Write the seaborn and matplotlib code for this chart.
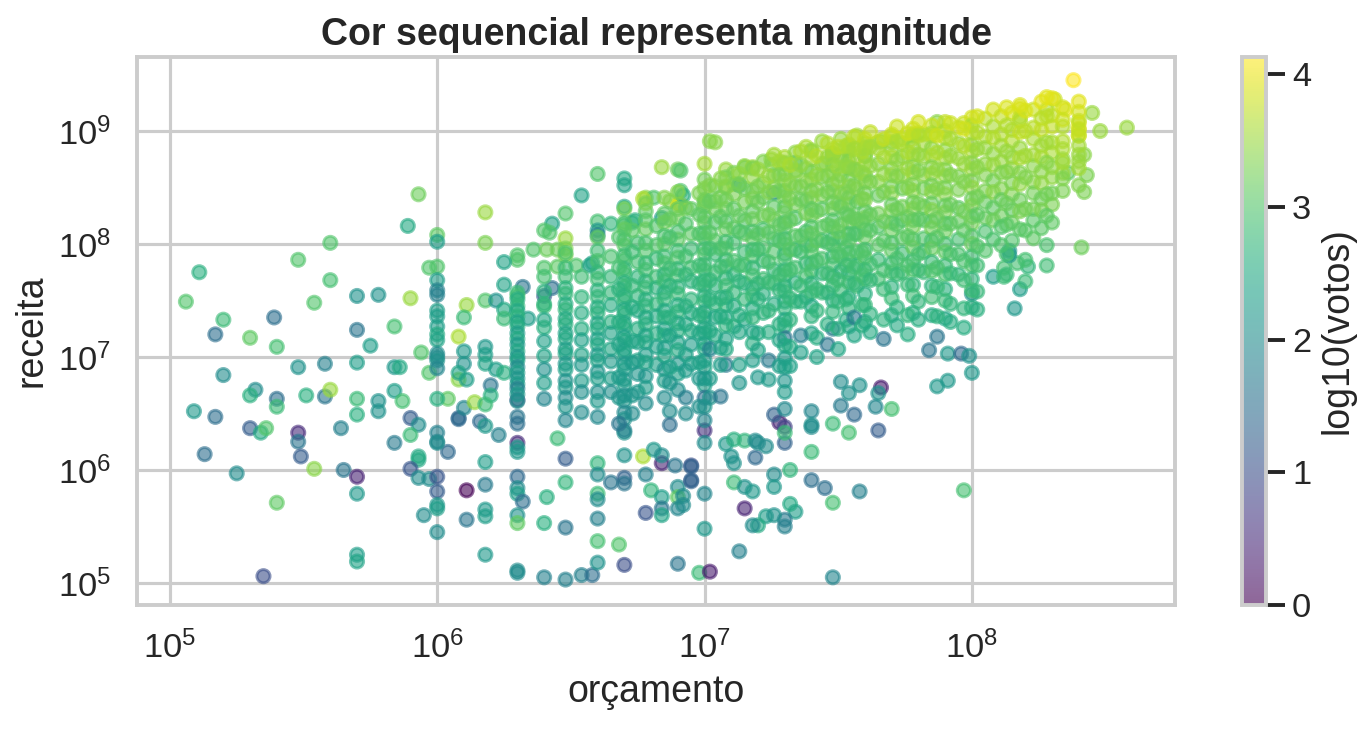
import numpy as np
import pandas as pd
import matplotlib
matplotlib.use("Agg")
import matplotlib.pyplot as plt
import seaborn as sns

# valores, em log10 x 100 (orcamento, receita, votos)

# pontos soltos a esquerda (orcamento < 2e6)
orc_esq = [593, 589, 560, 548, 511, 560, 506, 554, 570, 578,
           590, 611, 539, 520, 517, 530, 540, 570, 575, 584,
           608, 610, 548, 558, 570, 520, 584, 586, 594, 597,
           532, 530, 540, 540, 551, 558, 560, 570, 570, 578,
           578, 584, 587, 509, 517, 530, 534, 536, 548, 548,
           549, 564, 513, 525, 554, 565, 570, 570, 540, 570,
           570, 535, 590, 593, 590, 584, 593, 593, 590, 593,
           597, 595, 604, 611, 611, 608, 608, 610, 604, 614,
           608, 611, 610, 610, 608, 597]
rec_esq = [844, 816, 801, 786, 775, 768, 749, 748, 754, 755,
           752, 746, 735, 733, 720, 717, 709, 724, 710, 727,
           718, 735, 691, 694, 695, 684, 691, 691, 704, 686,
           671, 666, 663, 656, 666, 665, 671, 663, 649, 661,
           652, 670, 661, 652, 647, 637, 633, 637, 633, 625,
           612, 637, 614, 597, 601, 600, 594, 579, 571, 525,
           519, 506, 646, 640, 631, 624, 612, 609, 601, 593,
           592, 560, 616, 582, 556, 646, 645, 655, 663, 660,
           680, 680, 694, 705, 686, 779]
vot_esq = [320, 250, 300, 300, 260, 290, 300, 300, 210, 210,
           350, 350, 150, 280, 150, 310, 290, 160, 230, 290,
           360, 280, 210, 180, 230, 200, 220, 250, 300, 300,
           200, 260, 150, 280, 260, 160, 350, 280, 260, 210,
           210, 230, 290, 220, 150, 120, 250, 300, 50, 160,
           120, 180, 150, 200, 340, 160, 40, 220, 310, 230,
           240, 100, 120, 200, 280, 170, 250, 250, 110, 200,
           200, 200, 140, 0, 160, 140, 140, 190, 310, 350,
           340, 230, 210, 220, 240, 300]

# pontos soltos no meio (2e6 a 1e7)
orc_meio = [684, 690, 660, 670, 670, 654, 691, 678, 681, 677,
            687, 690, 618, 618, 648, 670, 678, 684, 660, 643,
            640, 642, 648, 648, 648, 665, 670, 673, 674, 660,
            660, 636, 630, 630, 625, 640, 645, 641, 645, 652,
            657, 658, 625, 618, 622, 632, 630, 640, 643, 640,
            625, 625, 634,
            618, 618, 618, 622, 625, 620, 620, 618, 616, 618,
            623, 630, 630, 630, 630, 630, 630, 630, 630, 630,
            632, 630, 630, 630, 630, 618, 618, 618, 618, 618,
            640, 641, 640, 645, 648, 648, 648, 648, 654, 658,
            660, 660, 660, 660, 660, 660, 660, 665, 668, 670,
            670, 670, 670, 670, 678, 678, 680, 684, 684, 684,
            690, 690, 690, 690, 684, 677, 681, 684, 689, 695,
            695, 700, 700, 698, 702]
rec_meio = [868, 866, 862, 858, 852, 843, 847, 841, 841, 840,
            838, 835, 828, 801, 827, 833, 829, 823, 820, 818,
            812, 810, 805, 796, 790, 818, 817, 819, 821, 812,
            808, 795, 790, 786, 784, 779, 780, 795, 795, 781,
            781, 783, 764, 750, 750, 762, 754, 754, 761, 745,
            742, 734, 734,
            709, 702, 694, 689, 686, 675, 666, 658, 643, 639,
            631, 662, 647, 641, 624, 620, 616, 594, 584, 579,
            572, 560, 553, 511, 509, 607, 587, 565, 559, 525,
            553, 576, 505, 628, 610, 589, 549, 503, 507, 507,
            606, 596, 579, 574, 557, 537, 518, 589, 534, 593,
            588, 613, 633, 516, 596, 562, 582, 576, 566, 560,
            585, 576, 566, 517, 606, 612, 618, 613, 604, 604,
            591, 579, 548, 509, 510]
vot_meio = [350, 320, 300, 250, 240, 240, 300, 340, 300, 360,
            330, 380, 350, 330, 300, 250, 310, 230, 290, 240,
            300, 300, 350, 330, 340, 270, 280, 270, 260, 220,
            180, 300, 300, 300, 240, 300, 310, 320, 320, 300,
            240, 240, 240, 300, 210, 160, 300, 120, 150, 280,
            250, 280, 230,
            220, 230, 240, 230, 260, 160, 260, 280, 140, 220,
            180, 70, 160, 150, 50, 220, 220, 140, 200, 230,
            150, 210, 310, 200, 200, 230, 170, 220, 230, 220,
            260, 260, 180, 280, 120, 270, 160, 180, 180, 150,
            270, 200, 280, 200, 180, 290, 210, 160, 300, 130,
            160, 210, 210, 100, 180, 110, 270, 230, 160, 240,
            200, 310, 190, 160, 40, 360, 220, 200, 160, 100,
            120, 190, 220, 280, 30]

# pontos soltos embaixo a direita
orc_baixo = [784, 791, 796, 799, 800, 787, 791, 770, 765, 764,
             766, 765, 756, 751, 748, 754, 751, 754, 758, 740,
             740, 740, 740, 740, 745, 748, 758, 732, 734, 732,
             730, 730, 726, 726, 723, 726, 720, 718, 711, 715,
             718, 715, 713, 748, 797, 719, 710, 711, 708, 711,
             715, 719, 720, 723, 730, 728, 730, 726, 730, 700,
             700, 695, 695, 692, 692]
rec_baixo = [706, 703, 703, 701, 686, 674, 679, 654, 635, 656,
             673, 668, 649, 657, 641, 633, 678, 668, 675, 652,
             640, 638, 616, 591, 584, 571, 581, 600, 563, 570,
             556, 550, 596, 585, 559, 560, 551, 551, 589, 585,
             581, 566, 528, 505, 582, 611, 612, 606, 623, 627,
             626, 626, 624, 621, 624, 642, 638, 649, 633, 635,
             624, 603, 590, 577, 569]
vot_baixo = [160, 220, 140, 210, 220, 220, 220, 290, 120, 190,
             30, 210, 140, 170, 280, 290, 200, 210, 210, 190,
             210, 200, 280, 150, 150, 290, 180, 270, 230, 250,
             170, 180, 200, 220, 230, 210, 250, 200, 280, 210,
             220, 40, 180, 190, 290, 140, 210, 210, 220, 260,
             270, 200, 200, 200, 130, 40, 80, 130, 280, 60,
             200, 130, 130, 200, 200]

# pontos soltos em cima (bordas da nuvem)
orc_cima = [838, 831, 818, 818, 828, 835, 845, 858, 848, 840,
            840, 840, 842, 843, 842, 836, 841, 821, 817, 818,
            816, 808, 812, 812, 814, 814, 800, 787, 797, 780,
            777, 766, 702, 704, 760, 760, 748, 751, 725, 725,
            715, 734, 734, 745, 754, 691, 708, 711, 713, 726,
            700, 704, 691, 692]
rec_cima = [945, 928, 920, 912, 919, 919, 916, 903, 900, 907,
            902, 896, 879, 861, 846, 863, 797, 780, 783, 760,
            743, 771, 771, 779, 794, 790, 756, 908, 907, 898,
            892, 891, 891, 890, 885, 878, 880, 877, 875, 870,
            868, 872, 865, 871, 868, 865, 850, 853, 852, 845,
            837, 838, 835, 843]
vot_cima = [413, 380, 390, 360, 360, 400, 350, 350, 350, 400,
            400, 390, 340, 330, 330, 310, 320, 270, 290, 230,
            220, 230, 280, 290, 220, 220, 210, 340, 380, 340,
            390, 330, 340, 340, 330, 340, 250, 330, 350, 340,
            310, 260, 330, 330, 350, 300, 350, 350, 230, 200,
            320, 330, 390, 260]

# colunas de orcamentos redondos (1e6, 2e6, 3e6, ... 2.5e8)
col_orc = [600, 630, 640, 648, 654, 660, 665, 670, 675, 678,
           682, 685, 690, 695, 700, 704, 708, 711, 715, 718,
           722, 726, 730, 734, 738, 740, 744, 748, 751, 754,
           757, 760, 765, 770, 774, 778, 782, 785, 790, 795,
           800, 805, 808, 811, 815, 818, 823, 826, 830, 834,
           840]
col_n = [24, 20, 10, 20, 10, 20, 10, 30, 10, 20,
         10, 20, 20, 10, 30, 10, 20, 10, 10, 20,
         10, 10, 30, 10, 10, 20, 10, 20, 10, 20,
         10, 20, 10, 20, 10, 20, 10, 20, 20, 10,
         20, 10, 10, 10, 10, 10, 10, 10, 10, 10,
         10]
col_rec = [
    808, 802, 780, 768, 759, 755, 741, 736, 727, 720, 715, 703, 700, 697, 690, 663, 633, 625, 624, 594, 581, 569, 566, 545,
    757, 751, 745, 741, 736, 731, 727, 721, 716, 711, 705, 700, 697, 691, 686, 681, 676, 672, 667, 661,
    771, 758, 747, 733, 726, 714, 701, 689, 677, 663,
    792, 779, 771, 761, 756, 747, 742, 734, 729, 721, 716, 707, 703, 694, 689, 679, 673, 664, 656, 644,
    771, 753, 739, 725, 715, 702, 693, 679, 669, 651,
    806, 794, 785, 775, 769, 759, 753, 744, 739, 730, 725, 716, 711, 702, 697, 687, 681, 669, 661, 647,
    789, 771, 757, 746, 731, 721, 707, 696, 681, 669,
    831, 819, 813, 804, 799, 790, 786, 778, 774, 766, 762, 754, 750, 742, 738, 730, 726, 718, 714, 706,
    702, 694, 689, 680, 675, 666, 661, 651, 645, 635,
    801, 784, 771, 754, 741, 725, 713, 697, 685, 669,
    836, 821, 813, 801, 794, 783, 777, 767, 761, 751, 745, 735, 729, 719, 713, 702, 695, 683, 673, 659,
    816, 799, 787, 771, 761, 747, 736, 721, 709, 693,
    841, 827, 819, 807, 800, 789, 783, 773, 767, 757, 751, 741, 735, 725, 719, 708, 701, 689, 679, 664,
    846, 831, 823, 811, 804, 794, 788, 778, 772, 762, 756, 746, 740, 730, 723, 713, 706, 694, 685, 671,
    831, 809, 796, 779, 767, 751, 739, 723, 711, 694,
    871, 857, 849, 839, 833, 824, 819, 810, 805, 796, 791, 782, 777, 768, 763, 754, 749, 740, 735, 726,
    721, 712, 707, 697, 691, 681, 675, 664, 656, 644,
    851, 831, 819, 803, 791, 775, 763, 747, 735, 719,
    866, 859, 851, 839, 831, 820, 813, 802, 796, 786, 780, 770, 763, 753, 746, 735, 728, 716, 707, 693,
    863, 844, 831, 814, 801, 785, 773, 757, 745, 727,
    869, 849, 837, 821, 809, 793, 781, 765, 751, 733,
    868, 867, 859, 847, 840, 829, 822, 811, 805, 795, 789, 779, 772, 761, 754, 743, 735, 722, 712, 697,
    873, 854, 841, 825, 813, 797, 785, 769, 756, 739,
    879, 861, 849, 833, 821, 805, 793, 777, 765, 747,
    877, 871, 872, 862, 856, 847, 842, 833, 828, 819, 814, 805, 800, 791, 786, 777, 772, 763, 758, 749,
    743, 733, 727, 717, 710, 699, 691, 679, 669, 654,
    881, 864, 851, 835, 823, 807, 795, 779, 766, 749,
    886, 867, 855, 839, 827, 811, 799, 783, 771, 753,
    882, 883, 875, 864, 857, 847, 841, 831, 825, 815, 809, 799, 793, 783, 776, 765, 757, 745, 736, 721,
    891, 871, 859, 843, 831, 815, 803, 787, 774, 757,
    884, 879, 881, 870, 863, 853, 847, 837, 831, 821, 815, 805, 799, 789, 782, 771, 763, 750, 740, 725,
    893, 874, 861, 845, 833, 817, 805, 789, 776, 759,
    888, 882, 885, 874, 867, 857, 851, 841, 835, 825, 819, 809, 803, 792, 785, 774, 766, 753, 743, 727,
    896, 877, 865, 849, 837, 821, 809, 793, 781, 763,
    893, 886, 889, 878, 871, 861, 855, 845, 839, 829, 823, 813, 806, 795, 788, 777, 769, 756, 746, 731,
    890, 884, 871, 855, 843, 827, 815, 799, 786, 769,
    897, 890, 895, 884, 877, 867, 861, 851, 845, 835, 829, 819, 812, 801, 794, 783, 775, 762, 752, 737,
    893, 889, 877, 861, 849, 833, 821, 805, 792, 775,
    902, 896, 897, 886, 879, 869, 863, 853, 847, 837, 831, 821, 815, 804, 797, 785, 777, 764, 754, 739,
    897, 889, 877, 861, 849, 833, 821, 805, 793, 775,
    905, 898, 896, 885, 878, 868, 862, 852, 846, 836, 830, 820, 814, 803, 796, 784, 776, 763, 753, 737,
    908, 900, 894, 883, 876, 866, 860, 850, 844, 834, 828, 818, 811, 800, 793, 781, 773, 760, 750, 734,
    903, 889, 876, 860, 848, 832, 820, 804, 791, 773,
    912, 905, 898, 888, 882, 872, 866, 856, 850, 840, 834, 824, 818, 807, 800, 789, 781, 769, 759, 744,
    911, 895, 885, 871, 861, 847, 837, 823, 811, 794,
    919, 904, 894, 880, 870, 856, 846, 832, 821, 804,
    913, 897, 887, 873, 863, 849, 839, 825, 815, 799,
    916, 901, 891, 877, 867, 854, 844, 830, 819, 803,
    923, 909, 899, 885, 876, 863, 853, 839, 829, 813,
    919, 903, 893, 879, 869, 855, 845, 831, 821, 805,
    926, 911, 901, 887, 877, 864, 854, 840, 830, 814,
    929, 914, 904, 890, 881, 868, 859, 845, 835, 819,
    921, 904, 891, 875, 863, 847, 872, 858, 884, 910,
    926, 909, 896, 879, 867, 852, 901, 887, 873, 917,
]
col_vot = [
    310, 230, 300, 230, 180, 180, 230, 230, 230, 250, 240, 200, 200, 210, 190, 260, 180, 190, 200, 110, 120, 220, 230, 200,
    280, 255, 270, 250, 265, 240, 255, 230, 250, 225, 245, 220, 240, 200, 230, 215, 225, 180, 220, 205,
    290, 265, 270, 245, 260, 235, 240, 210, 230, 190,
    300, 280, 285, 265, 275, 255, 270, 250, 260, 240, 250, 230, 245, 220, 235, 210, 225, 200, 215, 190,
    285, 270, 255, 255, 235, 240, 220, 225, 205, 200,
    310, 285, 295, 275, 285, 265, 275, 255, 265, 245, 255, 235, 250, 225, 240, 215, 230, 205, 220, 195,
    295, 275, 275, 255, 260, 240, 245, 225, 230, 205,
    325, 300, 315, 290, 305, 285, 295, 275, 290, 265, 280, 260, 275, 250, 265, 245, 260, 235, 250, 230,
    245, 220, 235, 215, 230, 205, 220, 195, 210, 185,
    290, 290, 270, 270, 250, 255, 235, 240, 215, 220,
    330, 305, 315, 295, 300, 280, 290, 270, 280, 260, 270, 250, 260, 240, 250, 230, 240, 215, 225, 200,
    300, 300, 280, 285, 265, 270, 250, 255, 235, 235,
    335, 310, 320, 295, 305, 285, 295, 270, 285, 260, 275, 250, 265, 240, 255, 230, 245, 215, 230, 200,
    335, 310, 325, 295, 310, 285, 300, 275, 290, 265, 280, 255, 270, 245, 260, 235, 250, 220, 235, 205,
    310, 310, 285, 290, 265, 270, 250, 255, 230, 235,
    355, 325, 335, 315, 325, 305, 315, 295, 310, 285, 300, 280, 290, 270, 285, 260, 275, 250, 265, 245,
    255, 235, 250, 225, 240, 210, 230, 150, 215, 190,
    320, 320, 300, 305, 280, 285, 265, 270, 245, 250,
    350, 325, 335, 315, 325, 300, 315, 290, 305, 280, 295, 270, 285, 260, 275, 250, 265, 240, 250, 170,
    330, 330, 310, 310, 290, 295, 270, 275, 255, 260,
    345, 320, 325, 300, 310, 285, 290, 265, 275, 245,
    355, 330, 345, 320, 330, 310, 320, 295, 310, 285, 300, 275, 290, 265, 280, 255, 270, 240, 255, 230,
    335, 335, 315, 320, 295, 300, 280, 285, 260, 265,
    355, 325, 335, 310, 320, 290, 300, 275, 285, 255,
    360, 340, 350, 325, 340, 320, 330, 310, 320, 300, 310, 290, 305, 280, 295, 275, 290, 265, 280, 255,
    270, 245, 260, 160, 250, 225, 240, 215, 225, 195,
    345, 340, 320, 325, 300, 305, 285, 290, 265, 270,
    360, 330, 340, 315, 325, 295, 305, 280, 290, 260,
    365, 345, 355, 330, 340, 320, 335, 310, 325, 300, 315, 290, 305, 280, 295, 265, 280, 250, 265, 240,
    350, 345, 325, 330, 305, 310, 290, 295, 270, 275,
    365, 350, 360, 335, 345, 325, 335, 315, 325, 300, 315, 290, 305, 280, 295, 270, 285, 255, 270, 170,
    350, 350, 325, 335, 305, 315, 290, 295, 270, 280,
    370, 350, 360, 335, 350, 325, 340, 315, 330, 305, 320, 295, 310, 285, 300, 270, 285, 260, 270, 245,
    355, 355, 330, 340, 310, 320, 295, 300, 275, 285,
    375, 355, 365, 340, 355, 330, 345, 320, 335, 310, 325, 300, 315, 290, 305, 275, 290, 260, 275, 245,
    360, 355, 335, 340, 315, 325, 300, 305, 280, 290,
    380, 360, 370, 345, 360, 335, 350, 325, 340, 315, 330, 305, 320, 295, 310, 280, 295, 265, 280, 250,
    365, 360, 340, 345, 320, 325, 300, 305, 285, 290,
    380, 360, 370, 345, 360, 335, 355, 330, 345, 320, 335, 305, 325, 300, 315, 285, 300, 270, 285, 255,
    370, 355, 345, 340, 325, 320, 305, 300, 285, 280,
    380, 360, 370, 345, 360, 335, 350, 325, 340, 315, 335, 305, 325, 295, 315, 280, 300, 265, 285, 250,
    375, 360, 365, 345, 355, 335, 345, 325, 340, 315, 330, 300, 320, 290, 310, 280, 295, 260, 280, 245,
    375, 350, 350, 330, 330, 310, 315, 290, 295, 270,
    385, 360, 370, 350, 360, 340, 350, 330, 345, 320, 335, 310, 325, 300, 315, 285, 300, 270, 285, 255,
    370, 360, 350, 345, 335, 330, 315, 315, 295, 300,
    385, 360, 365, 345, 350, 325, 340, 310, 320, 295,
    375, 365, 355, 350, 335, 335, 315, 320, 300, 300,
    385, 360, 365, 345, 350, 330, 335, 310, 320, 300,
    390, 365, 375, 350, 360, 335, 345, 320, 330, 305,
    380, 370, 360, 355, 340, 340, 325, 325, 305, 310,
    395, 370, 375, 355, 360, 340, 345, 320, 330, 305,
    395, 375, 375, 360, 360, 345, 345, 325, 330, 310,
    385, 365, 365, 345, 350, 330, 355, 335, 360, 380,
    395, 370, 375, 350, 355, 335, 375, 355, 350, 385,
]

# orcamentos intermediarios que preenchem a nuvem entre as colunas
meio_orc = [668, 673, 687, 693, 698, 702, 706, 713, 720, 724,
            728, 732, 736, 742, 746, 750, 753, 756, 759, 762,
            767, 772, 776, 780, 787, 792, 797, 802, 813, 820,
            828]
meio_n = [8, 8, 10, 10, 10, 10, 10, 10, 10, 10,
          10, 10, 10, 10, 10, 10, 8, 10, 8, 10,
          10, 10, 10, 10, 10, 10, 10, 10, 8, 8,
          8]
meio_rec = [
    806, 779, 760, 731, 711, 682, 664, 641,
    812, 793, 763, 744, 714, 695, 666, 650,
    822, 806, 778, 763, 735, 719, 691, 677, 652, 640,
    832, 818, 789, 773, 745, 729, 702, 688, 664, 650,
    845, 826, 809, 781, 765, 737, 721, 695, 681, 656,
    852, 838, 810, 796, 768, 751, 723, 707, 681, 664,
    858, 841, 824, 796, 780, 752, 736, 708, 693, 665,
    862, 853, 825, 811, 781, 767, 737, 722, 693, 677,
    866, 851, 837, 809, 795, 765, 751, 721, 706, 682,
    860, 846, 826, 810, 784, 766, 741, 722, 697, 680,
    873, 861, 847, 817, 803, 773, 759, 729, 715, 692,
    870, 853, 840, 821, 795, 777, 752, 733, 709, 692,
    882, 870, 851, 839, 807, 793, 763, 749, 719, 704,
    878, 861, 848, 829, 803, 785, 760, 741, 717, 700,
    889, 877, 860, 846, 817, 801, 774, 757, 729, 711,
    886, 868, 856, 836, 811, 792, 768, 749, 725, 707,
    887, 869, 845, 827, 797, 781, 751, 733,
    895, 884, 866, 852, 823, 809, 779, 765, 735, 719,
    882, 863, 840, 820, 793, 772, 746, 728,
    899, 886, 869, 855, 826, 812, 782, 768, 738, 722,
    893, 877, 862, 846, 820, 803, 777, 760, 733, 716,
    904, 891, 874, 860, 831, 817, 787, 773, 744, 728,
    898, 881, 867, 850, 824, 807, 781, 764, 737, 720,
    908, 896, 879, 865, 836, 822, 791, 777, 749, 733,
    896, 881, 866, 849, 823, 806, 779, 762, 736, 718,
    907, 893, 878, 861, 835, 818, 791, 774, 747, 731,
    902, 887, 871, 855, 829, 812, 785, 768, 743, 726,
    913, 899, 884, 868, 842, 826, 798, 781, 758, 742,
    921, 905, 882, 864, 836, 817, 791, 773,
    918, 900, 878, 859, 831, 812, 786, 767,
    930, 913, 890, 872, 844, 825, 799, 781,
]
meio_vot = [
    300, 290, 265, 255, 240, 225, 215, 160,
    305, 285, 275, 255, 245, 225, 215, 200,
    315, 295, 285, 270, 260, 240, 235, 215, 200, 150,
    320, 300, 290, 275, 260, 250, 235, 225, 175, 200,
    330, 310, 300, 285, 270, 260, 245, 235, 220, 205,
    335, 315, 305, 290, 275, 265, 250, 185, 225, 210,
    340, 325, 310, 295, 285, 265, 255, 240, 230, 160,
    345, 325, 315, 300, 290, 270, 260, 245, 235, 215,
    350, 330, 320, 305, 290, 275, 265, 250, 240, 220,
    350, 335, 325, 310, 295, 280, 270, 255, 170, 225,
    355, 335, 325, 310, 300, 285, 270, 260, 245, 230,
    360, 340, 330, 315, 305, 290, 275, 265, 250, 235,
    360, 345, 330, 320, 305, 290, 280, 265, 175, 235,
    365, 345, 335, 320, 310, 295, 280, 270, 255, 240,
    365, 350, 335, 325, 310, 295, 285, 270, 260, 160,
    370, 350, 340, 325, 315, 300, 285, 275, 260, 245,
    360, 345, 330, 315, 300, 285, 270, 255,
    370, 355, 340, 330, 315, 300, 290, 275, 170, 245,
    360, 345, 330, 315, 300, 290, 270, 260,
    375, 355, 345, 330, 315, 305, 290, 275, 265, 250,
    375, 360, 345, 330, 320, 305, 290, 280, 265, 160,
    380, 360, 345, 335, 320, 305, 295, 280, 265, 250,
    380, 360, 350, 335, 320, 310, 295, 280, 270, 255,
    385, 365, 350, 335, 325, 310, 295, 285, 270, 255,
    380, 360, 345, 335, 320, 305, 295, 280, 265, 160,
    380, 360, 350, 335, 320, 310, 295, 280, 270, 255,
    385, 365, 350, 335, 325, 310, 295, 285, 270, 255,
    385, 365, 350, 340, 325, 310, 300, 285, 275, 260,
    390, 365, 350, 335, 320, 305, 290, 280,
    390, 370, 355, 335, 325, 305, 290, 280,
    395, 370, 355, 340, 325, 310, 295, 285,
]

orc = np.concatenate([orc_esq, orc_meio, orc_baixo, orc_cima,
                      np.repeat(col_orc, col_n), np.repeat(meio_orc, meio_n)])
rec = np.concatenate([rec_esq, rec_meio, rec_baixo, rec_cima, col_rec, meio_rec])
vot = np.concatenate([vot_esq, vot_meio, vot_baixo, vot_cima, col_vot, meio_vot])
n = min(len(orc), len(rec), len(vot))
print(len(orc), len(rec), len(vot))

df = pd.DataFrame({
    "orcamento": 10 ** (orc[:n] / 100.0),
    "receita": 10 ** (rec[:n] / 100.0),
    "log_votos": vot[:n] / 100.0,
})

sns.set_theme(style="whitegrid", context="talk")
plt.rcParams["font.family"] = ["Liberation Sans", "DejaVu Sans"]

fig = plt.figure(figsize=(13.7 / 1.5, 7.29 / 1.5), dpi=150)
ax = fig.add_axes([0.1, 0.1701, 0.7577, 0.7517])
cax = fig.add_axes([0.9066, 0.1701, 0.0175, 0.7517])

norm = plt.Normalize(df["log_votos"].min(), df["log_votos"].max())
sns.scatterplot(data=df, x="orcamento", y="receita", hue="log_votos",
                palette="viridis", hue_norm=norm, alpha=0.6, s=40,
                edgecolor="face", linewidth=1.4, legend=False, ax=ax)
ax.set_xscale("log")
ax.set_yscale("log")
ax.set_xlim(10 ** 4.877, 10 ** 8.76)
ax.set_ylim(10 ** 4.805, 10 ** 9.655)
ax.set_title("Cor sequencial representa magnitude", fontweight="bold")
ax.set_xlabel("orçamento")
ax.set_ylabel("receita")

sm = plt.cm.ScalarMappable(norm=norm, cmap="viridis")
cb = fig.colorbar(sm, cax=cax, alpha=0.6)
cb.set_label("log10(votos)")
cax.grid(False)

fig.savefig("out.png", dpi=150)
